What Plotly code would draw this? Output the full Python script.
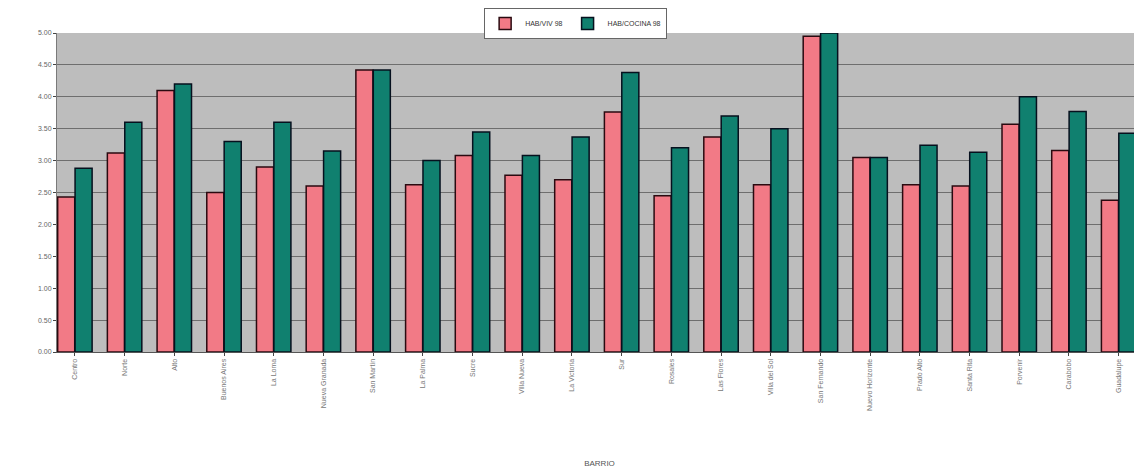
import plotly.graph_objects as go

barrios = ["Centro", "Norte", "Alto", "Buenos Aires", "La Loma", "Nueva Granada",
           "San Martín", "La Palma", "Sucre", "Villa Nueva", "La Victoria", "Sur",
           "Rosales", "Las Flores", "Villa del Sol", "San Fernando", "Nuevo Horizonte",
           "Prado Alto", "Santa Rita", "Porvenir", "Carabobo", "Guadalupe"]
hab_viv = [2.43, 3.12, 4.10, 2.50, 2.90, 2.60, 4.42, 2.62, 3.08, 2.77, 2.70, 3.76,
           2.45, 3.37, 2.62, 4.95, 3.05, 2.62, 2.60, 3.57, 3.16, 2.38]
hab_coc = [2.88, 3.60, 4.20, 3.30, 3.60, 3.15, 4.42, 3.00, 3.45, 3.08, 3.37, 4.38,
           3.20, 3.70, 3.50, 5.00, 3.05, 3.24, 3.13, 4.00, 3.77, 3.43]
series_names = ["HAB/VIV 98", "HAB/COCINA 98"]
y_ticks = [0, 0.5, 1, 1.5, 2, 2.5, 3, 3.5, 4, 4.5, 5]

fig = go.Figure()
fig.add_trace(go.Bar(x=barrios, y=hab_viv, name=series_names[0],
                     marker=dict(color="#f27a86", line=dict(color="#2a0a10", width=1.5))))
fig.add_trace(go.Bar(x=barrios, y=hab_coc, name=series_names[1],
                     marker=dict(color="#10806f", line=dict(color="#06101e", width=1.5))))

plot_h = 468 - 25 - 124
fig.update_layout(
    width=1134, height=468,
    margin=dict(l=49, r=0, t=25, b=124, autoexpand=False),
    paper_bgcolor="white", plot_bgcolor="#bdbdbd",
    barmode="group", bargap=0.3, bargroupgap=0.02,
    font=dict(family="Arial, Liberation Sans", size=8, color="#555555"),
    legend=dict(orientation="h", x=0.478, xanchor="center",
                y=1 + 25 / plot_h, yanchor="top",
                bgcolor="white", bordercolor="#666666", borderwidth=1,
                font=dict(size=7, color="#333333"), itemwidth=30,
                tracegroupgap=0),
    showlegend=True,
)
fig.update_yaxes(range=[0, 5.0], tickvals=y_ticks, tickformat=".2f",
                 showgrid=True, gridcolor="#6e6e6e", gridwidth=1,
                 showline=True, linecolor="#7a7a7a", ticks="outside", ticklen=3,
                 tickfont=dict(size=7, color="#666666"), zeroline=False)
fig.update_xaxes(range=[-0.36, 21.47], tickangle=-90, tickfont=dict(size=7, color="#777777"),
                 showline=True, linecolor="#555555", ticks="outside", ticklen=3,
                 title=dict(text="BARRIO", font=dict(size=8, color="#555555"), standoff=50))

fig.write_html("out.html")
